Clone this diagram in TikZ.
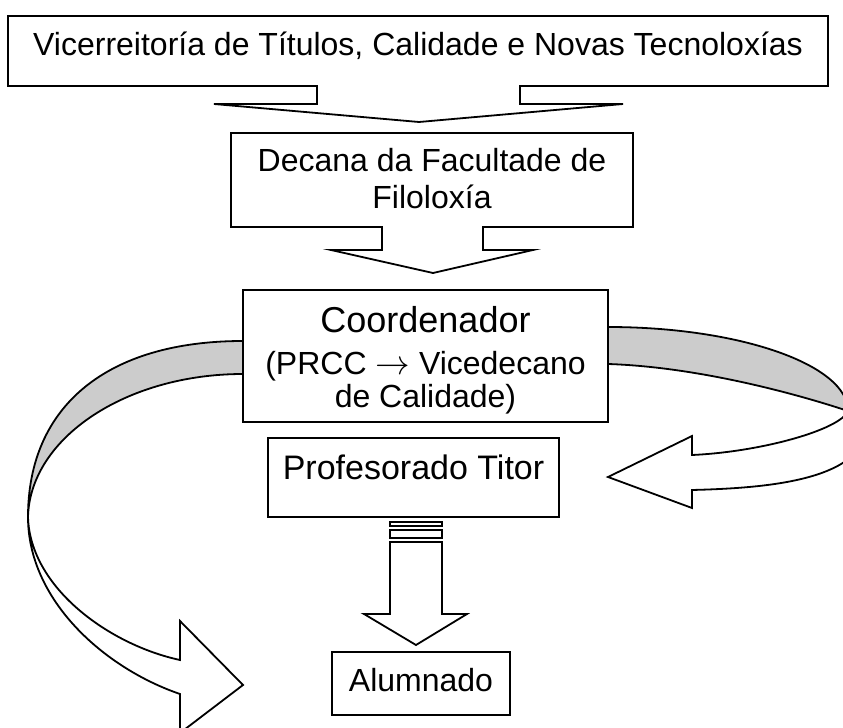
\documentclass[tikz,border=0pt]{standalone}
\usepackage{fontspec}
\setmainfont{Liberation Sans}
\usepackage{tikz}
\usetikzlibrary{calc}
\definecolor{ribbon}{RGB}{204,204,204}

\begin{document}
\begin{tikzpicture}[x=0.5pt,y=-0.5pt,line width=0.9pt,line join=miter,
    txt/.style={font=\fontsize{16}{18.5}\selectfont,align=center,inner sep=0pt,outer sep=0pt},
    box/.style={txt,draw},
    band/.style={draw,fill=ribbon},
    blockarrow/.style={draw,fill=white}]
  \useasboundingbox (0,0) rectangle (843,728);
  \clip (0,0) rectangle (843,728);
  \node[txt,minimum width=410pt,minimum height=35pt,text height=12pt,text depth=8pt](vice)at(418,51){Vicerreitoría de Títulos, Calidade e Novas Tecnoloxías};
  \node[txt,minimum width=201pt,minimum height=47pt,text height=31pt,text depth=3pt](decana)at(432,180){Decana da Facultade de\\Filoloxía};
  \node[box,minimum width=182.5pt,minimum height=66pt,text height=56pt,text depth=4pt,font=\fontsize{16}{17}\selectfont](coord)at(425.5,356){{\fontsize{18}{20}\selectfont Coordenador}\\[4pt](PRCC $\rightarrow$ Vicedecano\\de Calidade)};
  \node[box,minimum width=145.5pt,minimum height=39.5pt,text height=12pt,text depth=10.5pt,font=\fontsize{17}{19}\selectfont](titor)at(413.5,477.5){Profesorado Titor};
  \node[box,minimum width=89pt,minimum height=31.5pt,text height=12pt,text depth=4.5pt](alum)at(421,683.5){Alumnado};
  \draw (vice.north west) -- (vice.north east) -- (vice.south east) -- ($(vice.south)+(102,0)$) -- ($(vice.south)+(102,18)$) -- ($(vice.south)+(205,18)$)
        -- ($(vice.south)+(1,36)$) -- ($(vice.south)+(-204,18)$) -- ($(vice.south)+(-101,18)$) -- ($(vice.south)+(-101,0)$) -- (vice.south west) -- cycle;
  \draw (decana.north west) -- (decana.north east) -- (decana.south east) -- ($(decana.south)+(51,0)$) -- ($(decana.south)+(51,23)$) -- ($(decana.south)+(101,23)$)
        -- ($(decana.south)+(1,46)$) -- ($(decana.south)+(-101,23)$) -- ($(decana.south)+(-50,23)$) -- ($(decana.south)+(-50,0)$) -- (decana.south west) -- cycle;
  \coordinate (L) at (28,517);
  \coordinate (lefttip) at (243,685);
  \filldraw[band] ($(coord.west)+(0,-15)$) .. controls (107,341) and (28,406) .. (L) .. controls (30,438) and (126,374) .. ($(coord.west)+(0,18)$) -- cycle;
  \filldraw[blockarrow] (L) .. controls (28,600) and (104,668) .. (180,694) -- (180,733) -- (lefttip) -- (180,621) -- (180,660) .. controls (110,645) and (30,588) .. (L) -- cycle;
  \coordinate (Q) at (848,411);
  \coordinate (righttip) at (608,477);
  \filldraw[band] ($(coord.east)+(0,-29)$) .. controls (740,327) and (848,365) .. (Q) .. controls (800,395) and (700,367) .. ($(coord.east)+(0,8)$) -- cycle;
  \filldraw[blockarrow] (868,418) .. controls (872,480) and (770,488) .. (692,490) -- (692,508) -- (righttip) -- (692,436) -- (692,455) .. controls (760,452) and (840,430) .. (Q) -- cycle;
  \coordinate (s) at ($(titor.south)+(2.5,0)$);
  \draw ($(s)+(-26,5)$) rectangle ($(s)+(26,9)$);
  \draw ($(s)+(-26,13)$) rectangle ($(s)+(26,21)$);
  \draw ($(s)+(-26,25)$) -- ($(s)+(26,25)$) -- ($(s)+(26,97)$) -- ($(s)+(51,97)$) -- ($(s)+(0,128)$) -- ($(s)+(-52,97)$) -- ($(s)+(-26,97)$) -- cycle;
\end{tikzpicture}
\end{document}
